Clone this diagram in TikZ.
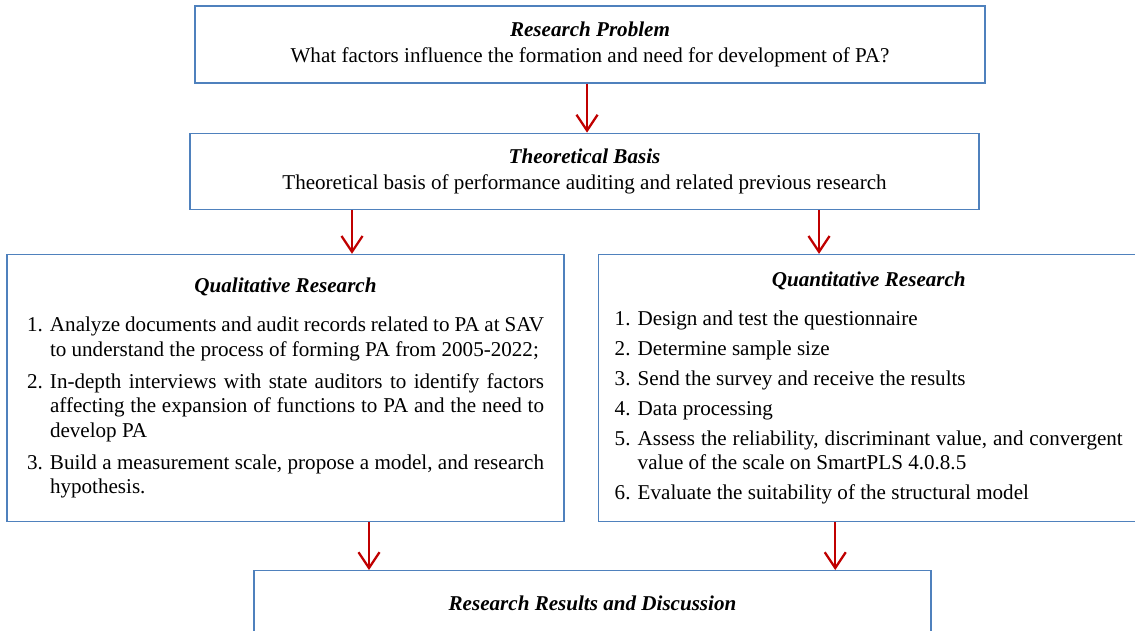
\documentclass[tikz,border=0pt]{standalone}
\usepackage{fontspec}
\setmainfont{Liberation Serif}
\usetikzlibrary{positioning,arrows.meta}
\definecolor{boxblue}{HTML}{4F81BD}
\definecolor{arrred}{HTML}{C00000}
\newlength\numw
\setlength\numw{0.46cm}
\newcommand\listitem[2]{\par\hangindent=\numw\hangafter=1\noindent\makebox[\numw][l]{#1}#2\par}

\begin{document}
\begin{tikzpicture}[
     block/.style = {draw=boxblue, line width=0.7pt, rectangle, inner sep=0pt, align=center,
      font=\fontsize{12}{15}\selectfont},
     listblock/.style = {block, align=justify, font=\fontsize{12}{13.9}\selectfont},
     arrow/.style = {draw=arrred, line width=1.3pt, -{Straight Barb[length=9pt,width=12pt]}}
    ]
    \useasboundingbox (0,0) rectangle (22.7,-12.6);
    \clip (0,0) rectangle (22.7,-12.6);

    \node [block, minimum width=15.8cm, minimum height=1.54cm] (prob) at (11.8,-0.89)
      {\textbf{\textit{Research Problem}}\\
       What factors influence the formation and need for development of PA?};
    \node [block, minimum width=15.78cm, minimum height=1.52cm, below=0.98cm of prob, xshift=-0.11cm] (theo)
      {\textbf{\textit{Theoretical Basis}}\\
       Theoretical basis of performance auditing and related previous research};

    \node [listblock, text width=10.34cm, minimum width=11.14cm, minimum height=5.34cm, anchor=north west]
      (qual) at ([shift={(-3.66,-0.88)}]theo.south west)
      {\noindent{\centering\bfseries\itshape Qualitative Research\par}
       \vspace{8.5pt}
       \listitem{1.}{Analyze documents and audit records related to PA at SAV to understand the process of forming PA from 2005-2022;}
       \vspace{4.3pt}
       \listitem{2.}{In-depth interviews with state auditors to identify factors affecting the expansion of functions to PA and the need to develop PA}
       \vspace{4.3pt}
       \listitem{3.}{Build a measurement scale, propose a model, and research hypothesis.}};
    \node [listblock, text width=10.16cm, minimum width=10.82cm, minimum height=5.34cm, right=0.66cm of qual] (quant)
      {\noindent{\centering\bfseries\itshape Quantitative Research\par}
       \vspace{8.5pt}
       \listitem{1.}{Design and test the questionnaire}
       \vspace{3.1pt}
       \listitem{2.}{Determine sample size}
       \vspace{3.1pt}
       \listitem{3.}{Send the survey and receive the results}
       \vspace{3.1pt}
       \listitem{4.}{Data processing}
       \vspace{3.1pt}
       \listitem{5.}{Assess the reliability, discriminant value, and convergent value of the scale on SmartPLS 4.0.8.5}
       \vspace{3.1pt}
       \listitem{6.}{Evaluate the suitability of the structural model}};

    \node [block, minimum width=13.54cm, minimum height=1.32cm, anchor=north west]
      (res) at ([shift={(4.94,-0.96)}]qual.south west)
      {\textbf{\textit{Research Results and Discussion}}};

    \draw[arrow] ([xshift=-0.06cm]prob.south) coordinate (a1) -- (a1 |- theo.north);
    \draw[arrow] ([xshift=-4.65cm]theo.south) coordinate (a2) -- (a2 |- qual.north);
    \draw[arrow] ([xshift=4.69cm]theo.south) coordinate (a3) -- (a3 |- quant.north);
    \draw[arrow] ([xshift=1.67cm]qual.south) coordinate (a4) -- (a4 |- res.north);
    \draw[arrow] ([xshift=-0.67cm]quant.south) coordinate (a5) -- (a5 |- res.north);
\end{tikzpicture}
\end{document}
